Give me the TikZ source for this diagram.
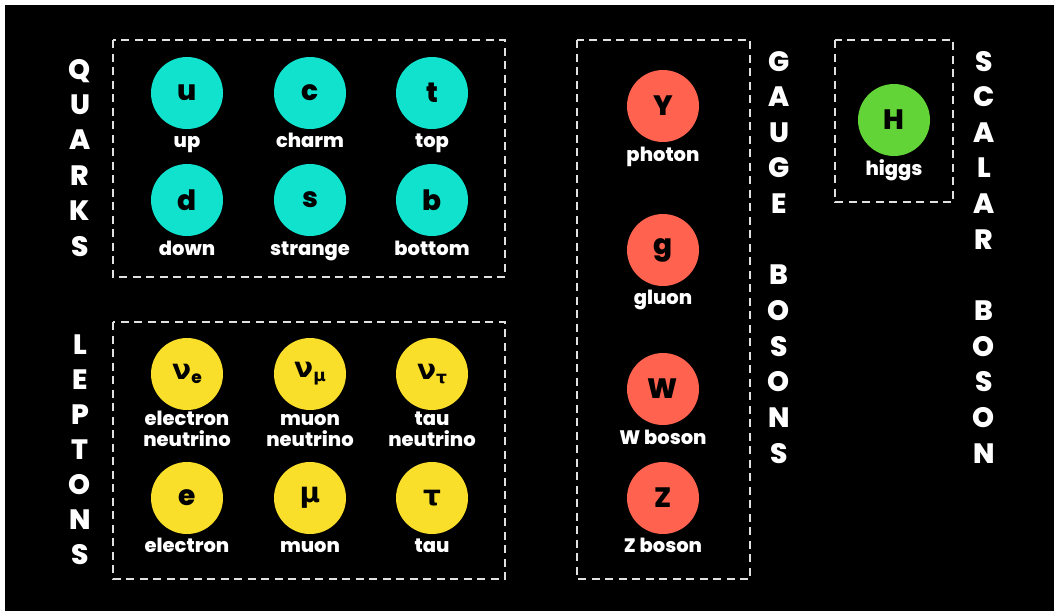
\documentclass[tikz,border=0pt]{standalone}
\usepackage{fontspec}
\setmainfont{Poppins}[BoldFont={Poppins ExtraBold}]
\newfontfamily\gk{DejaVu Sans}
\definecolor{quark}{RGB}{16,226,206}
\definecolor{lepton}{RGB}{249,222,42}
\definecolor{gauge}{RGB}{255,99,80}
\definecolor{higgs}{RGB}{98,212,56}
\definecolor{dashc}{RGB}{225,225,225}
\begin{document}
\begin{tikzpicture}[x=1pt,y=-1pt,
  part/.style={circle, minimum size=72pt, inner sep=0pt, font=\fontsize{28}{28}\selectfont\bfseries, text=black},
  lbl/.style={text=white, font=\fontsize{19.5}{21}\selectfont\bfseries, align=center, anchor=base, inner sep=0pt},
  grp/.style={draw=dashc, dash pattern=on 8pt off 5.5pt, line width=1.4pt},
  vl/.style={text=white, font=\fontsize{28}{28}\selectfont\bfseries, anchor=base, inner sep=0pt}]
\useasboundingbox (0,0) rectangle (1054,611);
\fill[white] (0,0) rectangle (1054,611);
\fill[black] (5,5) rectangle (1054,611);
% group boxes
\draw[grp] (113,40) rectangle (505,277);
\draw[grp] (113,322) rectangle (505,579);
\draw[grp] (577,40) rectangle (750,579);
\draw[grp] (835,40) rectangle (953,202);
% quarks
\node[part, fill=quark] (u) at (187,93) {u};
\node[part, fill=quark] (c) at (310,93) {c};
\node[part, fill=quark] (t) at (432,93) {t};
\node[part, fill=quark] (d) at (187,200) {d};
\node[part, fill=quark] (s) at (310,200) {s};
\node[part, fill=quark] (b) at (432,200) {b};
\node[lbl] (lu) at (187,147) {up};
\node[lbl] (lc) at (310,147) {charm};
\node[lbl] (lt) at (432,147) {top};
\node[lbl] (ld) at (187,255) {down};
\node[lbl] (ls) at (310,255) {strange};
\node[lbl] (lb) at (432,255) {bottom};
% leptons
\node[part, fill=lepton] (ne) at (187,374) {{\gk\bfseries ν}\raisebox{-0.15em}{\fontsize{17}{17}\selectfont e}};
\node[part, fill=lepton] (nm) at (310,374) {{\gk\bfseries ν}\raisebox{-0.15em}{\fontsize{17}{17}\selectfont\gk\bfseries μ}};
\node[part, fill=lepton] (nt) at (432,374) {{\gk\bfseries ν}\raisebox{-0.15em}{\fontsize{17}{17}\selectfont\gk\bfseries τ}};
\node[part, fill=lepton] (e) at (187,498) {e};
\node[part, fill=lepton] (mu) at (310,498) {{\gk\bfseries μ}};
\node[part, fill=lepton] (tau) at (432,498) {{\gk\bfseries τ}};
\node[lbl] (lne) at (187,446) {electron\\neutrino};
\node[lbl] (lnm) at (310,446) {muon\\neutrino};
\node[lbl] (lnt) at (432,446) {tau\\neutrino};
\node[lbl] (le) at (187,552) {electron};
\node[lbl] (lmu) at (310,552) {muon};
\node[lbl] (ltau) at (432,552) {tau};
% gauge bosons
\node[part, fill=gauge] (gam) at (663,106) {Y};
\node[part, fill=gauge] (g) at (663,250) {g};
\node[part, fill=gauge] (w) at (663,389) {W};
\node[part, fill=gauge] (z) at (663,498) {Z};
\node[lbl] (lgam) at (663,161) {photon};
\node[lbl] (lg) at (663,304) {gluon};
\node[lbl] (lw) at (663,444) {W boson};
\node[lbl] (lz) at (663,552) {Z boson};
% higgs
\node[part, fill=higgs] (h) at (894,120) {H};
\node[lbl] (lh) at (894,175) {higgs};
% vertical titles
\foreach \l [count=\i from 0] in {Q,U,A,R,K,S}
  \node[vl] (qt\i) at (80,79+35.4*\i) {\l};
\foreach \l [count=\i from 0] in {L,E,P,T,O,N,S}
  \node[vl] (lt\i) at (80,354+35*\i) {\l};
\foreach \l [count=\i from 0] in {G,A,U,G,E,{},B,O,S,O,N,S}
  \node[vl] (gt\i) at (779,71+35.64*\i) {\l};
\foreach \l [count=\i from 0] in {S,C,A,L,A,R,{},B,O,S,O,N}
  \node[vl] (st\i) at (984,71+35.64*\i) {\l};
\end{tikzpicture}
\end{document}
